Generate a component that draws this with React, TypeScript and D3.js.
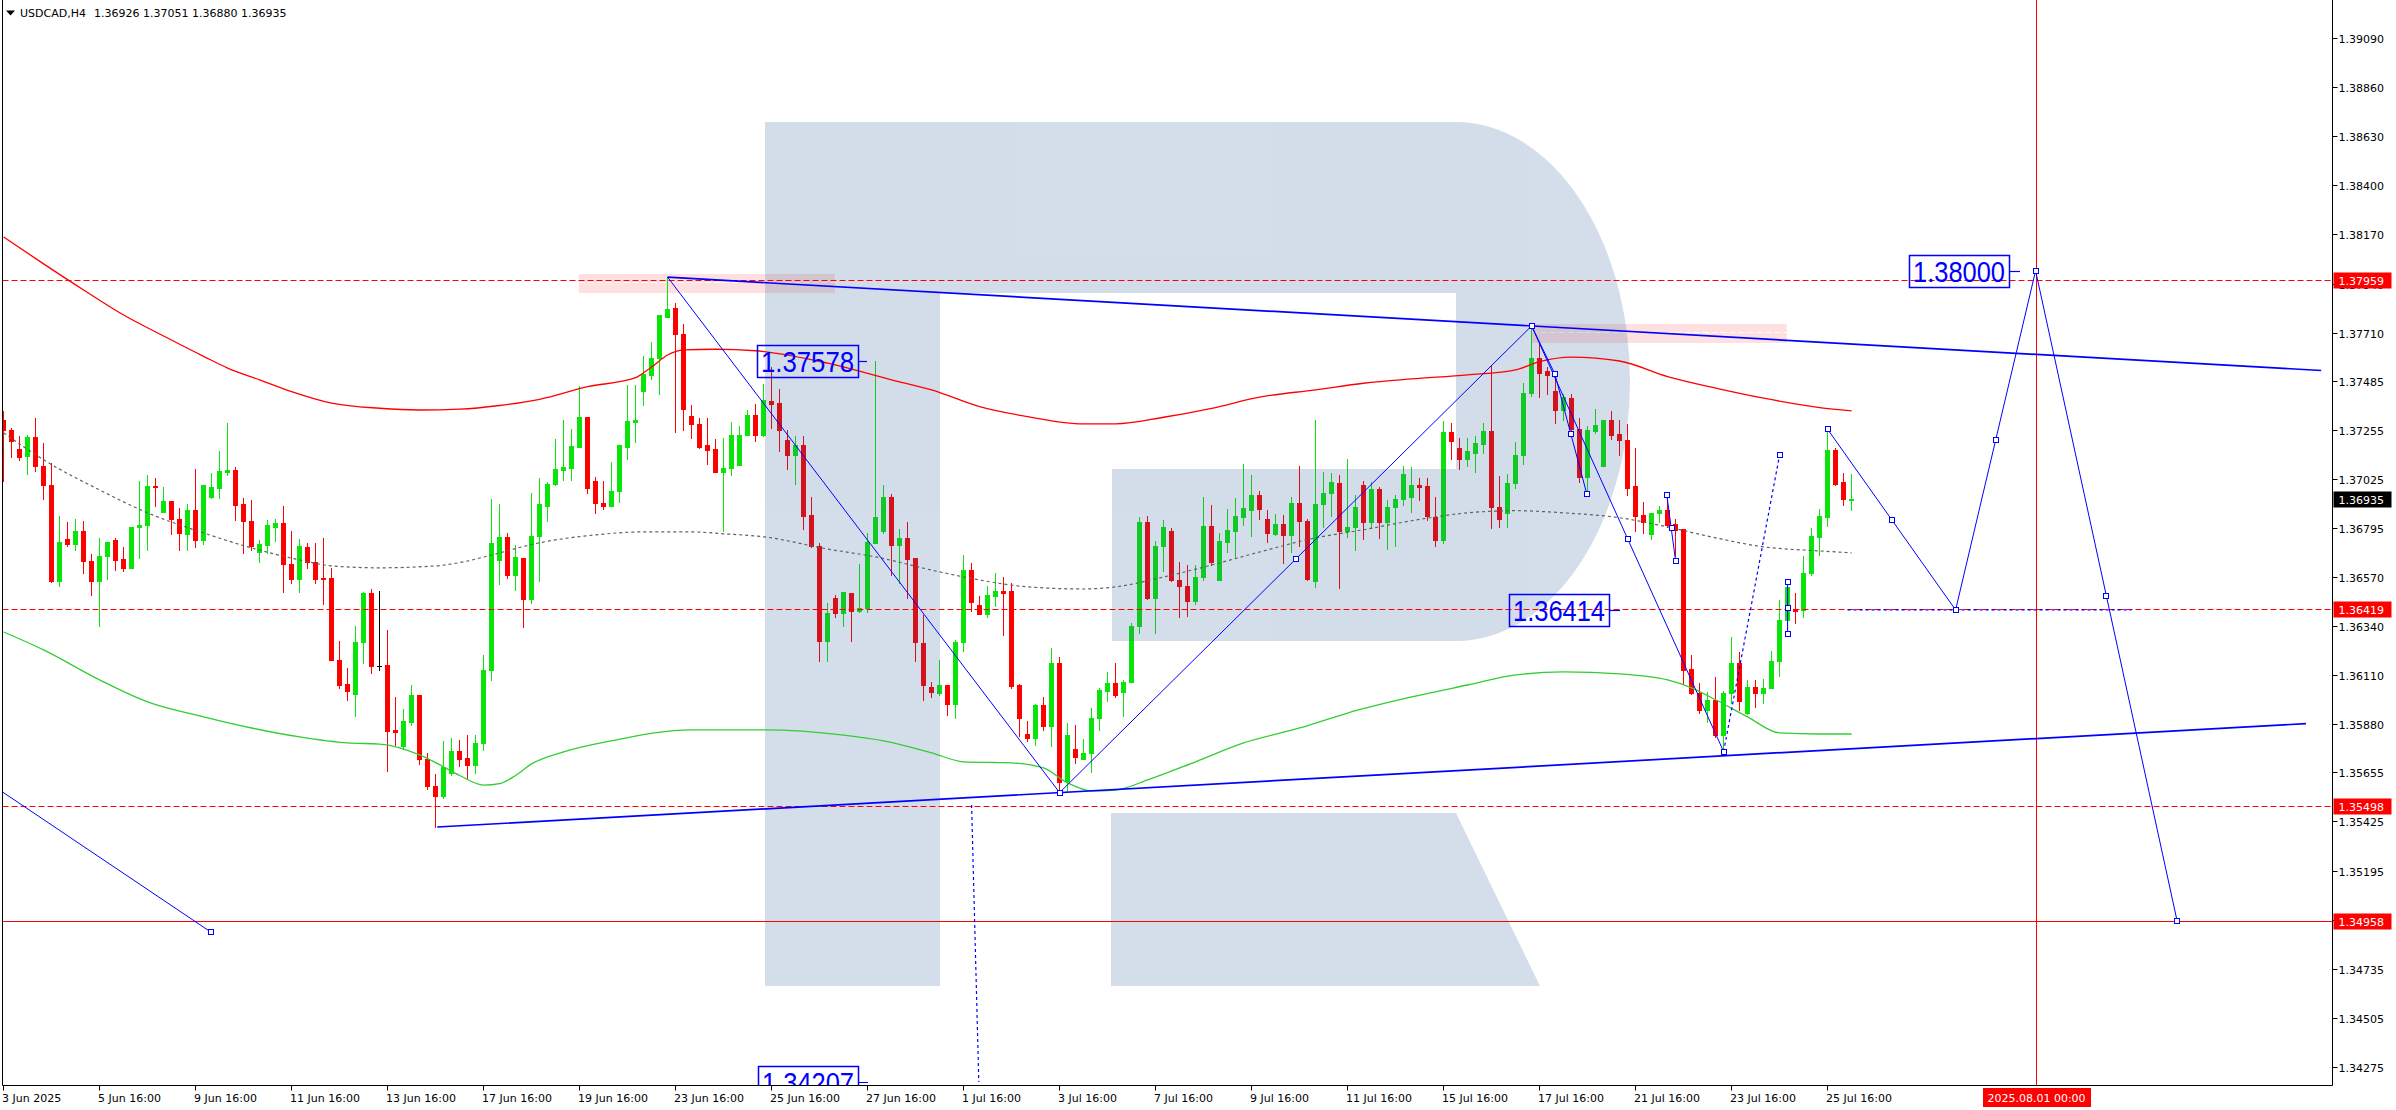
import React from "react";
import * as d3 from "d3";

// ---------- DATA ----------
const opens = [
1.37303,1.37256,1.37167,1.37136,1.37222,1.37088,1.36999,1.36547,1.36745,1.36720,
1.36784,1.36641,1.36547,1.36664,1.36742,1.36653,1.36608,1.36800,1.36809,1.36994,
1.36874,1.36924,1.36840,1.36771,1.36882,1.36742,1.36943,1.36982,1.37061,1.37069,
1.36910,1.36831,1.36683,1.36718,1.36804,1.36820,1.36631,1.36561,1.36709,1.36639,
1.36564,1.36564,1.36181,1.36068,1.36019,1.36262,1.36491,1.36154,1.36157,1.35853,
1.35779,1.35892,1.36014,1.35718,1.35593,1.35542,1.35651,1.35755,1.35721,1.35690,
1.35790,1.36131,1.36648,1.36757,1.36578,1.36659,1.36466,1.36760,1.36901,1.37004,
1.37069,1.37080,1.37178,1.37317,1.37018,1.36913,1.36901,1.36968,1.37178,1.37295,
1.37440,1.37513,1.37594,1.37783,1.37825,1.37705,1.37323,1.37284,1.37186,1.37166,
1.37061,1.37080,1.37092,1.37230,1.37326,1.37230,1.37390,1.37381,1.37209,1.37139,
1.37186,1.36859,1.36711,1.36271,1.36469,1.36402,1.36495,1.36411,1.36422,1.36729,
1.36785,1.36941,1.36718,1.36750,1.36656,1.36258,1.36053,1.36025,1.36064,1.35975,
1.36262,1.36601,1.36438,1.36396,1.36481,1.36503,1.36503,1.36064,1.35835,1.35813,
1.35970,1.35872,1.36165,1.35612,1.35763,1.35719,1.35744,1.35908,1.36037,1.36071,
1.36028,1.36075,1.36341,1.36827,1.36472,1.36711,1.36785,1.36555,1.36527,1.36458,
1.36567,1.36807,1.36552,1.36734,1.36785,1.36848,1.36882,1.36952,1.36840,1.36770,
1.36817,1.36765,1.36916,1.36832,1.36547,1.36910,1.36960,1.37007,1.36781,1.36801,
1.36999,1.36827,1.36980,1.36827,1.36894,1.36932,1.36941,1.36999,1.36994,1.36848,
1.36739,1.37245,1.37173,1.37120,1.37147,1.37191,1.37251,1.36894,1.36869,1.37007,
1.37139,1.37428,1.37591,1.37532,1.37438,1.37347,1.37404,1.37259,1.37035,1.37253,
1.37089,1.37300,1.37237,1.37209,1.36994,1.36859,1.36770,1.36866,1.36882,1.36817,
1.36792,1.36137,1.36025,1.35944,1.35994,1.35830,1.36025,1.36165,1.35931,1.36053,
1.36025,1.36048,1.36173,1.36368,1.36417,1.36414,1.36586,1.36757,1.36848,1.37163,
1.37011,1.36926];
const highs = [
1.37342,1.37264,1.37228,1.37233,1.37312,1.37194,1.37103,1.36854,1.36824,1.36838,
1.36831,1.36676,1.36751,1.36731,1.36750,1.36708,1.36803,1.37015,1.37046,1.37030,
1.36988,1.36924,1.36890,1.36910,1.37074,1.36999,1.37055,1.37158,1.37286,1.37082,
1.36938,1.36929,1.36742,1.36835,1.36840,1.36901,1.36784,1.36747,1.36728,1.36728,
1.36751,1.36609,1.36270,1.36143,1.36340,1.36496,1.36513,1.36503,1.36321,1.36009,
1.35952,1.36064,1.36014,1.35744,1.35648,1.35799,1.35814,1.35807,1.35830,1.35830,
1.36204,1.36933,1.36910,1.36773,1.36718,1.36659,1.36963,1.37030,1.37010,1.37214,
1.37301,1.37259,1.37459,1.37317,1.37036,1.37019,1.37108,1.37184,1.37466,1.37466,
1.37602,1.37669,1.37794,1.37970,1.37848,1.37752,1.37373,1.37311,1.37311,1.37212,
1.37217,1.37295,1.37272,1.37350,1.37378,1.37471,1.37552,1.37448,1.37256,1.37228,
1.37228,1.36944,1.36726,1.36446,1.36485,1.36497,1.36495,1.36628,1.36773,1.37578,
1.36999,1.36955,1.36792,1.36824,1.36656,1.36391,1.36079,1.36181,1.36064,1.36274,
1.36672,1.36633,1.36477,1.36524,1.36586,1.36566,1.36542,1.36068,1.35897,1.35975,
1.36009,1.36235,1.36193,1.35884,1.35877,1.35810,1.35955,1.36048,1.36126,1.36165,
1.36087,1.36352,1.36848,1.36854,1.36737,1.36835,1.36796,1.36637,1.36622,1.36625,
1.36944,1.36905,1.36776,1.36887,1.36937,1.37097,1.37046,1.36971,1.36882,1.36863,
1.36859,1.36944,1.37085,1.36838,1.37300,1.37058,1.37053,1.37046,1.37119,1.36952,
1.37019,1.37010,1.36991,1.36926,1.36952,1.37085,1.37081,1.37030,1.37033,1.36944,
1.37298,1.37287,1.37217,1.37217,1.37225,1.37287,1.37560,1.37038,1.37050,1.37197,
1.37477,1.37742,1.37661,1.37552,1.37521,1.37423,1.37423,1.37311,1.37275,1.37353,
1.37300,1.37345,1.37303,1.37284,1.37173,1.36921,1.36866,1.36901,1.36947,1.36838,
1.36792,1.36204,1.36071,1.36028,1.36100,1.36033,1.36287,1.36215,1.36087,1.36087,
1.36090,1.36223,1.36461,1.36551,1.36495,1.36667,1.36796,1.36885,1.37259,1.37170,
1.37053,1.37051];
const lows = [
1.37015,1.37131,1.37113,1.37050,1.37066,1.36935,1.36545,1.36524,1.36711,1.36692,
1.36589,1.36482,1.36341,1.36559,1.36603,1.36598,1.36608,1.36659,1.36692,1.36898,
1.36874,1.36767,1.36695,1.36692,1.36706,1.36720,1.36937,1.36938,1.37043,1.36835,
1.36678,1.36695,1.36636,1.36679,1.36737,1.36496,1.36538,1.36496,1.36608,1.36542,
1.36444,1.36178,1.36047,1.35991,1.35916,1.36168,1.36121,1.36131,1.35659,1.35783,
1.35763,1.35874,1.35693,1.35577,1.35400,1.35534,1.35643,1.35682,1.35627,1.35650,
1.35760,1.36087,1.36536,1.36562,1.36508,1.36336,1.36446,1.36547,1.36832,1.36999,
1.37022,1.37022,1.37178,1.36963,1.36869,1.36885,1.36898,1.36921,1.37119,1.37197,
1.37370,1.37495,1.37424,1.37783,1.37248,1.37256,1.37217,1.37170,1.37096,1.37057,
1.36781,1.37046,1.37092,1.37230,1.37205,1.37225,1.37264,1.37159,1.37074,1.37004,
1.36792,1.36707,1.36173,1.36173,1.36383,1.36341,1.36269,1.36403,1.36403,1.36726,
1.36776,1.36578,1.36542,1.36472,1.36173,1.35994,1.36006,1.36017,1.35923,1.35908,
1.36224,1.36411,1.36396,1.36380,1.36433,1.36298,1.36048,1.35825,1.35799,1.35783,
1.35853,1.35780,1.35560,1.35565,1.35697,1.35716,1.35658,1.35853,1.35986,1.36006,
1.35916,1.36075,1.36305,1.36466,1.36305,1.36594,1.36547,1.36380,1.36386,1.36441,
1.36555,1.36622,1.36552,1.36687,1.36656,1.36812,1.36762,1.36840,1.36734,1.36764,
1.36633,1.36684,1.36714,1.36555,1.36520,1.36801,1.36851,1.36516,1.36753,1.36692,
1.36746,1.36796,1.36749,1.36698,1.36711,1.36905,1.36874,1.36929,1.36835,1.36711,
1.36726,1.37119,1.37072,1.37089,1.37061,1.37147,1.36796,1.36804,1.36804,1.36983,
1.37096,1.37415,1.37412,1.37424,1.37290,1.37300,1.37240,1.37014,1.36975,1.37240,
1.37089,1.37214,1.37139,1.36952,1.36781,1.36773,1.36745,1.36827,1.36801,1.36664,
1.36071,1.36022,1.35931,1.35892,1.35822,1.35752,1.35978,1.35944,1.35928,1.35959,
1.35981,1.36048,1.36103,1.36330,1.36355,1.36383,1.36578,1.36672,1.36807,1.36999,
1.36905,1.36880];
const closes = [
1.37256,1.37202,1.37131,1.37222,1.37085,1.36996,1.36551,1.36731,1.36720,1.36784,
1.36641,1.36547,1.36667,1.36731,1.36648,1.36612,1.36803,1.36812,1.36994,1.36990,
1.36924,1.36837,1.36775,1.36882,1.36739,1.36999,1.36987,1.37065,1.37069,1.36907,
1.36828,1.36715,1.36723,1.36812,1.36820,1.36628,1.36561,1.36714,1.36636,1.36561,
1.36561,1.36178,1.36065,1.36037,1.36265,1.36491,1.36154,1.36154,1.35850,1.35841,
1.35895,1.36014,1.35716,1.35593,1.35542,1.35680,1.35755,1.35718,1.35690,1.35790,
1.36134,1.36726,1.36757,1.36578,1.36661,1.36466,1.36760,1.36908,1.37004,1.37072,
1.37081,1.37181,1.37317,1.36985,1.36912,1.36902,1.36971,1.37184,1.37297,1.37301,
1.37516,1.37594,1.37791,1.37822,1.37705,1.37354,1.37283,1.37178,1.37163,1.37061,
1.37077,1.37233,1.37233,1.37326,1.37230,1.37396,1.37378,1.37256,1.37139,1.37186,
1.36854,1.36711,1.36271,1.36398,1.36402,1.36497,1.36411,1.36422,1.36731,1.36848,
1.36941,1.36718,1.36750,1.36653,1.36262,1.36061,1.36028,1.36064,1.35975,1.36266,
1.36601,1.36449,1.36396,1.36485,1.36503,1.36495,1.36059,1.35908,1.35813,1.35970,
1.35872,1.36165,1.35609,1.35827,1.35725,1.35747,1.35908,1.36040,1.36071,1.36014,
1.36079,1.36341,1.36827,1.36472,1.36714,1.36801,1.36552,1.36524,1.36458,1.36570,
1.36807,1.36640,1.36737,1.36788,1.36851,1.36891,1.36952,1.36887,1.36773,1.36817,
1.36765,1.36916,1.36832,1.36559,1.36910,1.36963,1.37011,1.36784,1.36801,1.36894,
1.36827,1.36980,1.36823,1.36894,1.36932,1.37050,1.36999,1.36991,1.36851,1.36739,
1.37245,1.37206,1.37119,1.37155,1.37194,1.37251,1.36894,1.36838,1.37007,1.37139,
1.37428,1.37591,1.37524,1.37513,1.37347,1.37412,1.37259,1.37035,1.37256,1.37279,
1.37300,1.37233,1.37209,1.36986,1.36854,1.36823,1.36866,1.36882,1.36812,1.36789,
1.36134,1.36025,1.35944,1.35994,1.35830,1.36025,1.36165,1.35986,1.36053,1.36025,
1.36048,1.36176,1.36368,1.36520,1.36411,1.36586,1.36760,1.36854,1.37163,1.37004,
1.36932,1.36935];

// indicator envelope: [bar index, price]
const upperBand: [number, number][] = [
[0,1.38158],[5,1.38032],[10,1.37910],[15,1.37793],[20,1.37695],[25,1.37600],[28,1.37545],[32,1.37490],
[36,1.37435],[41,1.37381],[47,1.37357],[52,1.37349],[57,1.37353],[62,1.37370],[67,1.37399],[73,1.37458],
[79,1.37500],[81,1.37550],[83,1.37606],[85,1.37630],[89,1.37633],[94,1.37626],[103,1.37568],[111,1.37490],
[116,1.37443],[122,1.37365],[128,1.37318],[135,1.37284],[139,1.37284],[145,1.37315],[151,1.37357],
[157,1.37409],[164,1.37443],[170,1.37474],[176,1.37494],[183,1.37513],[189,1.37537],[192,1.37575],
[196,1.37596],[202,1.37578],[208,1.37505],[214,1.37451],[220,1.37404],[227,1.37360],[231,1.37345]];
const midLine: [number, number][] = [
[0,1.37242],[5,1.37116],[12,1.36975],[18,1.36868],[25,1.36774],[31,1.36704],[37,1.36648],[41,1.36620],
[47,1.36611],[54,1.36620],[58,1.36643],[61,1.36671],[67,1.36728],[74,1.36765],[80,1.36779],[86,1.36779],
[90,1.36770],[95,1.36756],[103,1.36699],[109,1.36662],[117,1.36592],[122,1.36554],[128,1.36522],
[135,1.36512],[139,1.36522],[145,1.36568],[151,1.36624],[157,1.36685],[164,1.36751],[170,1.36789],
[176,1.36831],[183,1.36868],[189,1.36878],[195,1.36868],[202,1.36845],[208,1.36802],[214,1.36751],
[220,1.36709],[227,1.36690],[231,1.36681]];
const lowerBand: [number, number][] = [
[0,1.36311],[5,1.36227],[12,1.36087],[18,1.35984],[25,1.35914],[31,1.35862],[37,1.35820],[43,1.35792],
[47,1.35787],[52,1.35736],[54,1.35700],[57,1.35640],[60,1.35595],[62,1.35602],[64,1.35640],[66,1.35694],
[70,1.35750],[76,1.35802],[86,1.35853],[95,1.35853],[105,1.35829],[110,1.35802],[116,1.35746],[120,1.35704],
[126,1.35699],[130,1.35675],[133,1.35605],[136,1.35568],[139,1.35572],[143,1.35619],[149,1.35704],[155,1.35792],
[162,1.35862],[168,1.35932],[176,1.36007],[183,1.36063],[189,1.36110],[195,1.36124],[202,1.36115],
[208,1.36087],[211,1.36050],[214,1.35994],[218,1.35914],[222,1.35839],[227,1.35834],[231,1.35834]];

const priceTicks = [1.39090,1.38860,1.38630,1.38400,1.38170,1.37940,1.37710,1.37485,1.37255,1.37025,1.36795,
  1.36570,1.36340,1.36110,1.35880,1.35655,1.35425,1.35195,1.34965,1.34735,1.34505,1.34275];
const timeTickBars = [0,12,24,36,48,60,72,84,96,108,120,132,144,156,168,180,192,204,216,228];
const timeTickLabels = ["3 Jun 2025","5 Jun 16:00","9 Jun 16:00","11 Jun 16:00","13 Jun 16:00","17 Jun 16:00",
  "19 Jun 16:00","23 Jun 16:00","25 Jun 16:00","27 Jun 16:00","1 Jul 16:00","3 Jul 16:00","7 Jul 16:00",
  "9 Jul 16:00","11 Jul 16:00","15 Jul 16:00","17 Jul 16:00","21 Jul 16:00","23 Jul 16:00","25 Jul 16:00"];

const levelPrices = [1.37959, 1.36419, 1.35498, 1.34958];
const levelDashed = [true, true, true, false];
const currentPrice = 1.36935;
const verticalLineBar = 254;
const verticalLineLabel = "2025.08.01 00:00";

const zigzag: [number, number][] = [[83,1.37970],[132,1.35560],[191,1.37742],[215,1.35752]];
const forecast: [number, number][] = [[228,1.37259],[244,1.36414],[254,1.38000],[271.7,1.34958]];
const upperTrend: [number, number][] = [[83,1.37970],[191,1.37742]];
const lowerTrend: [number, number][] = [[54.2,1.35399],[132,1.35560]];
const upperTrendEnd = 289.7;
const lowerTrendEnd = 287.8;
const subLines: [number, number][][] = [
  [[191,1.37742],[193.9,1.37518]],
  [[193.9,1.37518],[197.9,1.36957]],
  [[207.9,1.36952],[209,1.36643]],
  [[223,1.36544],[223,1.36301]],
  [[-0.5,1.35572],[25.9,1.34908]],
];
const dottedLines: [number, number][][] = [
  [[215,1.35752],[218.5,1.36443],[222,1.37139]],
  [[121,1.35502],[121.9,1.34207]],
  [[230.5,1.36414],[266,1.36414]],
];
const markers: [number, number][] = [
  [132,1.35560],[161.5,1.36651],[191,1.37742],[203,1.36747],[215,1.35752],
  [193.9,1.37518],[195.9,1.37236],[197.9,1.36957],
  [207.9,1.36952],[208.5,1.36796],[209,1.36643],
  [223,1.36544],[223,1.36422],[223,1.36301],
  [228,1.37259],[236,1.36836],[244,1.36414],[249,1.37207],[254,1.38000],[262.85,1.36479],[271.7,1.34958],
  [25.9,1.34908],[222,1.37139],
];
const bigLabels = [
  { text: "1.37578", price: 1.37578, x0: 757, x1: 858, tick: 867 },
  { text: "1.38000", price: 1.38000, x0: 1909, x1: 2009, tick: 2020 },
  { text: "1.36414", price: 1.36414, x0: 1509, x1: 1609, tick: 1620 },
  { text: "1.34207", price: 1.34207, x0: 758, x1: 858, tick: 868 },
];
const zones = [
  { b0: 71.9, b1: 103.9, p0: 1.37985, p1: 1.37895 },
  { b0: 191, b1: 222.9, p0: 1.37751, p1: 1.37662 },
];

const titleSymbol = "USDCAD,H4";
const titleValues = "1.36926 1.37051 1.36880 1.36935";

const GREEN = "#0ae40a";
const RED = "#ff0000";
const BLUE = "#0000ff";

export default function App() {
  const W = 2396, H = 1110;
  const plotR = 2332.5, plotB = 1085.5, plotL = 2.5;
  const x = d3.scaleLinear().domain([0, 254]).range([3.6, 2035.6]);
  const y = d3.scaleLinear().domain([1.34188, 1.39266]).range([1086, 0]);
  const col = (i: number) => Math.floor(x(i));
  const py = (p: number) => Math.round(y(p));
  const lineGen = d3.line<[number, number]>().x(d => x(d[0])).y(d => y(d[1]));
  const smooth = d3.line<[number, number]>().x(d => x(d[0])).y(d => y(d[1])).curve(d3.curveMonotoneX);

  const extend = (pts: [number, number][], end: number): [number, number][] => {
    const [a, b] = pts;
    const slope = (b[1] - a[1]) / (b[0] - a[0]);
    return [a, [end, a[1] + slope * (end - a[0])]];
  };

  const font = "'DejaVu Sans', Verdana, sans-serif";

  return (
    <svg width={W} height={H} style={{ position: "absolute", left: 0, top: 0, background: "#fff" }}
      fontFamily={font}>
      <defs>
        <clipPath id="plot"><rect x={3} y={0} width={plotR - 3} height={plotB} /></clipPath>
      </defs>
      <rect x={0} y={0} width={W} height={H} fill="#fff" />

      <g clipPath="url(#plot)">
        {/* zones */}
        {zones.map((z, k) => (
          <g key={"z" + k}>
            <rect x={x(z.b0)} y={py(z.p0)} width={x(z.b1) - x(z.b0)} height={py(z.p1) - py(z.p0)}
              fill="rgb(255,0,0)" fillOpacity={0.12} />
            <line x1={x(z.b0)} x2={x(z.b1)} y1={py(z.p0) + 8.5} y2={py(z.p0) + 8.5} stroke="#fff"
              strokeDasharray="6,3" />
          </g>
        ))}

        {/* candles */}
        {opens.map((o, i) => {
          const c = closes[i], h = highs[i], l = lows[i];
          const color = o === c ? "#000" : c > o ? GREEN : RED;
          const cx = col(i);
          const top = py(Math.max(o, c));
          const bot = py(Math.min(o, c));
          return (
            <g key={i} fill={color}>
              <rect x={cx} y={py(h)} width={1} height={py(l) - py(h) + 1} />
              <rect x={cx - 2} y={top} width={5} height={Math.max(1, bot - top + 1)} />
            </g>
          );
        })}

        {/* watermark */}
        <g opacity={0.2} fill="rgb(41,92,148)">
          <rect x={765} y={122} width={175} height={864} />
          <rect x={940} y={122} width={516} height={171} />
          <path d="M1456,122 A174,259.5 0 0 1 1456,641 Z" />
          <rect x={1112} y={469} width={344} height={172} />
          <path d="M1111,813 L1456,813 L1540,986 L1111,986 Z" />
        </g>

        {/* indicator envelope */}
        <path d={smooth(upperBand) || ""} fill="none" stroke={RED} strokeWidth={1.3} />
        <path d={smooth(midLine) || ""} fill="none" stroke="#606060" strokeWidth={1.2} strokeDasharray="3,3" />
        <path d={smooth(lowerBand) || ""} fill="none" stroke="#32cd32" strokeWidth={1.3} />

        {/* horizontal levels */}
        {levelPrices.map((p, k) => (
          <line key={"lv" + k} x1={plotL} x2={plotR} y1={py(p) + 0.5} y2={py(p) + 0.5} stroke={RED}
            strokeWidth={1} strokeDasharray={levelDashed[k] ? "6,3" : undefined} />
        ))}
        <line x1={Math.round(x(verticalLineBar)) + 0.5} x2={Math.round(x(verticalLineBar)) + 0.5} y1={0} y2={plotB}
          stroke={RED} strokeWidth={1} />

        {/* trend lines */}
        <path d={lineGen(extend(upperTrend, upperTrendEnd)) || ""} fill="none" stroke={BLUE} strokeWidth={1.7} />
        <path d={lineGen(extend(lowerTrend, lowerTrendEnd)) || ""} fill="none" stroke={BLUE} strokeWidth={1.7} />
        <path d={lineGen(zigzag) || ""} fill="none" stroke={BLUE} strokeWidth={1} />
        <path d={lineGen(forecast) || ""} fill="none" stroke={BLUE} strokeWidth={1} />
        {subLines.map((s, k) => (
          <path key={"s" + k} d={lineGen(s) || ""} fill="none" stroke={BLUE} strokeWidth={1} />
        ))}
        {dottedLines.map((s, k) => (
          <path key={"d" + k} d={lineGen(s) || ""} fill="none" stroke={BLUE} strokeWidth={1.2}
            strokeDasharray="3,3" />
        ))}
        {markers.map((m, k) => (
          <rect key={"m" + k} x={Math.round(x(m[0])) - 2.5} y={py(m[1]) - 2.5} width={5} height={5}
            fill="#fff" stroke={BLUE} strokeWidth={1} />
        ))}

        {/* big price labels */}
        {bigLabels.map((b, k) => {
          const cy = py(b.price);
          return (
            <g key={"b" + k}>
              <rect x={b.x0 + 0.5} y={cy - 16 + 0.5} width={b.x1 - b.x0} height={32} fill="none" stroke={BLUE}
                strokeWidth={1.5} />
              <line x1={b.x1} x2={b.tick} y1={cy + 0.5} y2={cy + 0.5} stroke={BLUE} strokeWidth={1.2} />
              <text x={b.x0 + 4} y={cy + 11} fontFamily="'Liberation Sans', Arial, sans-serif" fontSize={29}
                fill={BLUE} textLength={b.x1 - b.x0 - 8} lengthAdjust="spacingAndGlyphs">{b.text}</text>
            </g>
          );
        })}
      </g>

      {/* frame */}
      <line x1={plotL} x2={plotL} y1={0} y2={plotB} stroke="#000" />
      <line x1={plotR} x2={plotR} y1={0} y2={plotB} stroke="#000" />
      <line x1={plotL} x2={plotR} y1={plotB} y2={plotB} stroke="#000" />

      {/* title */}
      <path d="M6,10.5 L15,10.5 L10.5,15.5 Z" fill="#000" />
      <text x={20} y={16.5} fontSize={11} fill="#000">{titleSymbol}</text>
      <text x={94} y={16.5} fontSize={11} fill="#000">{titleValues}</text>

      {/* right axis */}
      {priceTicks.map((p, k) => (
        <g key={"pt" + k}>
          <line x1={plotR} x2={plotR + 5} y1={py(p) + 0.5} y2={py(p) + 0.5} stroke="#000" />
          <text x={plotR + 6} y={py(p) + 4.5} fontSize={11} fill="#000">{p.toFixed(5)}</text>
        </g>
      ))}
      {levelPrices.map((p, k) => (
        <g key={"pl" + k}>
          <rect x={plotR + 1} y={py(p) - 7.5} width={58} height={16} fill={RED} />
          <text x={plotR + 6} y={py(p) + 4.5} fontSize={11} fill="#fff">{p.toFixed(5)}</text>
        </g>
      ))}
      <rect x={plotR + 1} y={py(currentPrice) - 7.5} width={58} height={16} fill="#000" />
      <text x={plotR + 6} y={py(currentPrice) + 4.5} fontSize={11} fill="#fff">{currentPrice.toFixed(5)}</text>

      {/* bottom axis */}
      {timeTickBars.map((b, k) => (
        <g key={"tt" + k}>
          <line x1={col(b) + 0.5} x2={col(b) + 0.5} y1={plotB} y2={plotB + 5} stroke="#000" />
          <text x={col(b) - 1} y={1102} fontSize={11} fill="#000">{timeTickLabels[k]}</text>
        </g>
      ))}
      <rect x={Math.round(x(verticalLineBar)) - 53} y={1088} width={108} height={19} fill={RED} />
      <text x={Math.round(x(verticalLineBar)) + 0.5} y={1102} fontSize={11} fill="#fff" textAnchor="middle">
        {verticalLineLabel}</text>
    </svg>
  );
}
